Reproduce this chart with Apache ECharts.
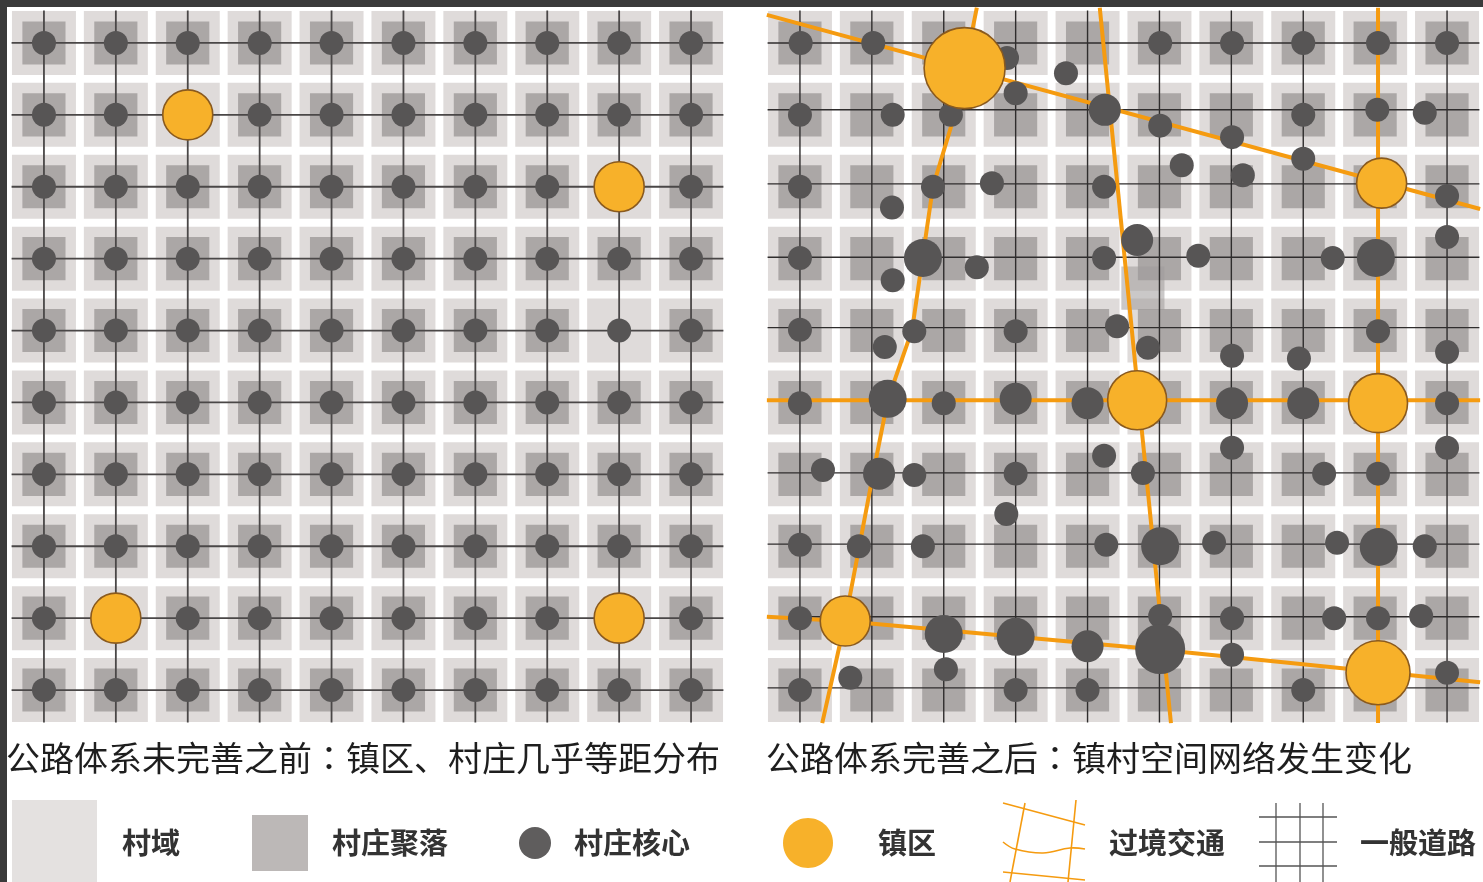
<!DOCTYPE html>
<html><head><meta charset="utf-8">
<script src="https://cdn.jsdelivr.net/npm/echarts@6/dist/echarts.min.js"></script>
<style>html,body{margin:0;padding:0;background:#fff}#c{width:1483px;height:882px}</style>
</head><body><div id="c"></div>
<script>
// ---------- DATA ----------
const COLS = [0,1,2,3,4,5,6,7,8,9];
const ROWS = [0,1,2,3,4,5,6,7,8,9];

// Left panel: '.' village core + settlement, 'T' town, 'o' core without settlement square
const LEFT_MAP = [
  "..........",
  "..T.......",
  "........T.",
  "..........",
  "........o.",
  "..........",
  "..........",
  "..........",
  ".T......T.",
  ".........."
];

const LEFT_V_LINES = [0,1,2,3,4,5,6,7,8,9];
const LEFT_H_LINES = [0,1,2,3,4,5,6,7,8,9];

const RIGHT_V_LINES = [0,1,2,3,4,5,6,7,9];
const RIGHT_H_LINES = [0,0.93,1.96,2.98,3.96,5.98,6.97,7.98,8.97];

// transit roads (right panel), polylines in grid units
const ROADS = [
  [[-0.46,-0.39],[9.46,2.31]],
  [[2.46,-0.49],[2.29,0.36],[2.10,1.17],[1.85,2.00],[1.56,3.99],[1.22,4.97],[1.02,5.98],[0.63,8.03],[0.31,9.46]],
  [[4.17,-0.49],[5.16,9.46]],
  [[8.04,-0.49],[8.04,9.46]],
  [[-0.46,4.97],[9.46,4.97]],
  [[-0.46,7.98],[0.60,8.04],[5.01,8.44],[9.46,8.89]]
];

// extra merged settlement patch (right panel)
const RIGHT_EXTRA_SETTLEMENTS = [[4.77,3.41]];

// towns: [col,row,scale]
const LEFT_TOWNS = [[2,1,1],[8,2,1],[1,8,1],[8,8,1]];
const RIGHT_TOWNS = [[2.29,0.35,4],[8.09,1.95,1],[4.69,4.97,2],[8.04,5.01,2],[0.63,8.04,1],[8.04,8.76,3]];

// village cores right panel: [col,row,level]
const RIGHT_CORES = [
  [0.01,0,1],[1.02,0,1],[2.88,0.21,1],[3.70,0.42,1],[5.01,0,1],[6.01,0,1],[7.0,0,1],[8.04,0,1],[9.0,0,1],
  [3.0,0.70,1],[4.24,0.93,2],[0,1.0,1],[1.29,1.0,1],[2.10,1.0,1],[5.01,1.15,1],[6.01,1.31,1],[7.0,1.0,1],[8.03,0.93,1],[8.69,0.97,1],
  [0,2.0,1],[1.85,2.0,1],[2.67,1.95,1],[4.23,2.0,1],[1.28,2.29,1],[5.31,1.70,1],[6.16,1.84,1],[7.0,1.61,1],[9.0,2.13,1],
  [0,2.99,1],[1.71,2.99,3],[2.46,3.12,1],[4.23,2.99,1],[1.29,3.30,1],[4.69,2.74,2],[5.54,2.96,1],[7.41,2.99,1],[8.01,2.99,3],[9.0,2.70,1],
  [0,3.99,1],[1.18,4.23,1],[1.59,4.01,1],[3.0,4.01,1],[4.41,3.94,1],[4.84,4.24,1],[6.01,4.35,1],[6.94,4.39,1],[8.04,4.01,1],[9.0,4.30,1],
  [0,5.01,1],[1.22,4.95,3],[2.0,5.01,1],[3.0,4.95,2],[4.0,5.01,2],[6.01,5.01,2],[7.0,5.01,2],[9.0,5.01,1],
  [0.32,5.94,1],[1.10,5.99,2],[1.59,6.01,1],[3.0,5.99,1],[4.23,5.74,1],[4.77,5.98,1],[6.01,5.63,1],[7.29,5.99,1],[8.04,5.99,1],[9.0,5.63,1],
  [0,6.98,1],[0.82,7.0,1],[1.71,7.0,1],[2.87,6.55,1],[4.26,6.98,1],[5.01,7.0,3],[5.76,6.95,1],[7.47,6.95,1],[8.05,7.01,3],[8.69,7.0,1],
  [0,8.0,1],[2.0,8.22,3],[3.0,8.26,3],[4.0,8.39,2],[5.01,7.97,1],[5.01,8.43,4],[6.01,8.0,1],[6.01,8.51,1],[7.43,8.0,1],[8.04,8.0,1],[8.64,7.97,1],
  [0,9.0,1],[0.70,8.83,1],[2.03,8.71,1],[3.0,9.0,1],[4.0,9.0,1],[7.0,9.0,1],[9.0,8.76,1]
];

// captions split around the full-width colon: [before, after]
const CAPTIONS = [
  ['公路体系未完善之前', '镇区、村庄几乎等距分布'],
  ['公路体系完善之后', '镇村空间网络发生变化']
];
const LEGEND_LABELS = ['村域','村庄聚落','村庄核心','镇区','过境交通','一般道路'];

// ---------- STYLE ----------
const C_CELL = '#dfdbda', C_SETTLE = '#aba7a6', C_CORE = '#575555';
const C_LINE_L = '#4a4747', C_LINE_R = '#2f2d2d', C_ROAD = '#f59b10';
const C_TOWN = '#f7b12a', C_TOWN_B = '#8a5a1e';
const CORE_SIZE = {1:24, 2:32, 3:38, 4:50};
const TOWN_SIZE = {1:50, 2:59, 3:64, 4:81};
const FONT = '"Noto Sans CJK SC", "Noto Sans", sans-serif';

// ---------- BUILD ----------
const allCells = [];
COLS.forEach(c => ROWS.forEach(r => allCells.push([c, r])));
const leftSettle = [], leftCores = [];
LEFT_MAP.forEach((row, r) => row.split('').forEach((ch, c) => {
  if (ch === '.') { leftSettle.push([c, r]); leftCores.push([c, r, 1]); }
  if (ch === 'o') { leftCores.push([c, r, 1]); }
}));
const rightSettle = allCells.slice();

function rectSeries(data, gi, frac, color, z, opacity) {
  return {
    type: 'custom', xAxisIndex: gi, yAxisIndex: gi, data: data, z: z, silent: true,
    renderItem: function (p, api) {
      const c = api.coord([api.value(0), api.value(1)]);
      const s = api.size([1, 1]);
      const w = Math.abs(s[0]) * frac, h = Math.abs(s[1]) * frac;
      return { type: 'rect', shape: { x: c[0] - w / 2, y: c[1] - h / 2, width: w, height: h },
        style: { fill: color, opacity: opacity == null ? 1 : opacity } };
    }
  };
}
function lineSeries(segs, gi, color, width, z) {
  return {
    type: 'lines', coordinateSystem: 'cartesian2d', xAxisIndex: gi, yAxisIndex: gi,
    polyline: true, silent: true, z: z,
    data: segs.map(s => ({ coords: s })),
    lineStyle: { color: color, width: width, opacity: 1 }
  };
}
const E = 0.45;
const leftGridSegs = LEFT_V_LINES.map(c => [[c, -E], [c, 9 + E]])
  .concat(LEFT_H_LINES.map(r => [[-E, r], [9 + E, r]]));
const rightGridSegs = RIGHT_V_LINES.map(c => [[c, -E], [c, 9 + E]])
  .concat(RIGHT_H_LINES.map(r => [[-E, r], [9 + E, r]]));

function coreSeries(data, gi) {
  return { type: 'scatter', xAxisIndex: gi, yAxisIndex: gi, data: data, z: 6, silent: true,
    symbol: 'circle', symbolSize: v => CORE_SIZE[v[2]], itemStyle: { color: C_CORE, opacity: 1 } };
}
function townSeries(data, gi) {
  return { type: 'scatter', xAxisIndex: gi, yAxisIndex: gi, data: data, z: 7, silent: true,
    symbol: 'circle', symbolSize: v => TOWN_SIZE[v[2]],
    itemStyle: { color: C_TOWN, borderColor: C_TOWN_B, borderWidth: 1.6, opacity: 1 } };
}

const axisX = gi => ({ gridIndex: gi, type: 'value', min: -0.5, max: 9.5, show: false });
const axisY = gi => ({ gridIndex: gi, type: 'value', min: -0.5, max: 9.5, inverse: true, show: false });

const legendY = 843;
const legendText = (x, t) => ({ type: 'text', x: x, y: legendY,
  style: { text: t, fill: '#333', font: 'bold 29px ' + FONT, verticalAlign: 'middle', align: 'left' } });

const captionTitle = (cap, left) => ({
  text: cap[0] + '{c|：}' + cap[1], left: left, top: 736, padding: 0,
  textStyle: {
    fontFamily: FONT, fontSize: 34, fontWeight: 'normal', color: '#1e1e1e', lineHeight: 44,
    rich: { c: { fontFamily: '"Noto Sans CJK TC", "Noto Sans CJK JP", sans-serif', fontSize: 34, color: '#1e1e1e', lineHeight: 44 } }
  }
});

const option = {
  animation: false,
  backgroundColor: '#ffffff',
  grid: [
    { left: 8, top: 7, width: 719, height: 719 },
    { left: 764, top: 7, width: 719, height: 719 }
  ],
  xAxis: [axisX(0), axisX(1)],
  yAxis: [axisY(0), axisY(1)],
  title: [captionTitle(CAPTIONS[0], 6), captionTitle(CAPTIONS[1], 766)],
  series: [
    rectSeries(allCells, 0, 0.89, C_CELL, 1),
    rectSeries(allCells, 1, 0.89, C_CELL, 1),
    rectSeries(leftSettle, 0, 0.6, C_SETTLE, 2),
    rectSeries(rightSettle, 1, 0.6, C_SETTLE, 2),
    rectSeries(RIGHT_EXTRA_SETTLEMENTS, 1, 0.6, '#9f9b9a', 2, 0.55),
    lineSeries(leftGridSegs, 0, C_LINE_L, 1.8, 3),
    lineSeries(rightGridSegs, 1, C_LINE_R, 1.4, 3),
    lineSeries(ROADS, 1, C_ROAD, 4, 4),
    coreSeries(leftCores, 0),
    coreSeries(RIGHT_CORES, 1),
    townSeries(LEFT_TOWNS, 0),
    townSeries(RIGHT_TOWNS, 1)
  ],
  graphic: [
    { type: 'rect', shape: { x: 0, y: 0, width: 1483, height: 7 }, style: { fill: '#3a3a3a' }, z: 100 },
    { type: 'rect', shape: { x: 0, y: 0, width: 7, height: 882 }, style: { fill: '#3a3a3a' }, z: 100 },
    // legend swatches
    { type: 'rect', shape: { x: 12, y: 800, width: 85, height: 82 }, style: { fill: '#e4e1e0' } },
    { type: 'rect', shape: { x: 252, y: 815, width: 56, height: 56 }, style: { fill: '#bcb8b7' } },
    { type: 'circle', shape: { cx: 535, cy: 843, r: 16 }, style: { fill: '#5f5d5d' } },
    { type: 'ellipse', shape: { cx: 808, cy: 843, rx: 25, ry: 25 }, style: { fill: C_TOWN } },
    { type: 'polyline', shape: { points: [[1003,803],[1085,825]] }, style: { stroke: C_ROAD, lineWidth: 1.6, fill: null } },
    { type: 'polyline', shape: { points: [[1025,803],[1010,882]] }, style: { stroke: C_ROAD, lineWidth: 1.6, fill: null } },
    { type: 'polyline', shape: { points: [[1076,800],[1068,882]] }, style: { stroke: C_ROAD, lineWidth: 1.6, fill: null } },
    { type: 'polyline', shape: { points: [[1003,842],[1015,849],[1043,853],[1070,848],[1085,849]], smooth: 0.4 }, style: { stroke: C_ROAD, lineWidth: 1.6, fill: null } },
    { type: 'polyline', shape: { points: [[1003,872],[1085,880]] }, style: { stroke: C_ROAD, lineWidth: 1.6, fill: null } },
    { type: 'polyline', shape: { points: [[1276,803],[1276,882]] }, style: { stroke: '#555', lineWidth: 1.3, fill: null } },
    { type: 'polyline', shape: { points: [[1300,803],[1300,882]] }, style: { stroke: '#555', lineWidth: 1.3, fill: null } },
    { type: 'polyline', shape: { points: [[1323,803],[1323,882]] }, style: { stroke: '#555', lineWidth: 1.3, fill: null } },
    { type: 'polyline', shape: { points: [[1259,817],[1337,817]] }, style: { stroke: '#555', lineWidth: 1.3, fill: null } },
    { type: 'polyline', shape: { points: [[1259,842],[1337,842]] }, style: { stroke: '#555', lineWidth: 1.3, fill: null } },
    { type: 'polyline', shape: { points: [[1259,866],[1337,866]] }, style: { stroke: '#555', lineWidth: 1.3, fill: null } },
    legendText(122, LEGEND_LABELS[0]),
    legendText(332, LEGEND_LABELS[1]),
    legendText(574, LEGEND_LABELS[2]),
    legendText(878, LEGEND_LABELS[3]),
    legendText(1109, LEGEND_LABELS[4]),
    legendText(1360, LEGEND_LABELS[5])
  ]
};
const chart = echarts.init(document.getElementById('c'), null, { renderer: 'canvas' });
chart.setOption(option);
</script>
</body></html>
